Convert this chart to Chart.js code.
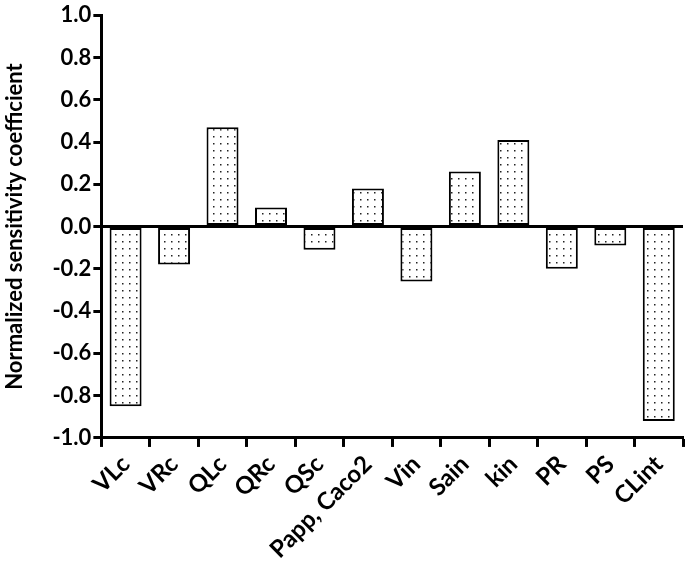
<!DOCTYPE html>
<html>
<head>
<meta charset="utf-8">
<script src="https://cdn.jsdelivr.net/npm/chart.js@4"></script>
<style>
  body { margin: 0; background: #fff; }
  #wrap { width: 685px; height: 567px; }
</style>
</head>
<body>
<div id="wrap"><canvas id="sensChart"></canvas></div>
<script>
var categories = ['VLc', 'VRc', 'QLc', 'QRc', 'QSc', 'Papp, Caco2', 'Vin', 'Sain', 'kin', 'PR', 'PS', 'CLint'];
var coefficients = [-0.85, -0.18, 0.47, 0.09, -0.11, 0.18, -0.26, 0.26, 0.41, -0.20, -0.09, -0.92];
var yTicks = [-1.0, -0.8, -0.6, -0.4, -0.2, 0.0, 0.2, 0.4, 0.6, 0.8, 1.0];

// dotted fill like the original
function dotPattern() {
  var c = document.createElement('canvas');
  c.width = 7; c.height = 7;
  var g = c.getContext('2d');
  g.fillStyle = '#fff';
  g.fillRect(0, 0, 7, 7);
  g.fillStyle = '#222';
  g.fillRect(3, 3, 1.5, 1.5);
  return g.createPattern(c, 'repeat');
}

Chart.defaults.font.family = 'Lato, "Open Sans", sans-serif';
Chart.defaults.color = '#000';

var ctx = document.getElementById('sensChart').getContext('2d');
var sensChart = new Chart(ctx, {
  type: 'bar',
  data: {
    labels: categories,
    datasets: [{
      data: coefficients,
      backgroundColor: dotPattern(),
      borderColor: '#000',
      borderWidth: 2,
      borderSkipped: false,
      barPercentage: 0.66,
      categoryPercentage: 1.0
    }]
  },
  options: {
    responsive: true,
    maintainAspectRatio: false,
    animation: false,
    layout: { padding: { top: 2, right: 2, bottom: 0, left: 2 } },
    plugins: {
      legend: { display: false },
      tooltip: { enabled: false }
    },
    scales: {
      x: {
        border: { display: true, color: '#000', width: 3 },
        grid: {
          drawOnChartArea: false,
          drawTicks: true,
          tickLength: 9,
          tickColor: '#000',
          tickWidth: 3
        },
        ticks: {
          minRotation: 45,
          maxRotation: 45,
          autoSkip: false,
          padding: 3,
          font: { size: 24, weight: 'bold' }
        }
      },
      y: {
        min: -1,
        max: 1,
        afterBuildTicks: function (axis) {
          axis.ticks = yTicks.map(function (v) { return { value: v }; });
        },
        border: { display: true, color: '#000', width: 3 },
        grid: {
          color: function (c) { return c.tick && c.tick.value === 0 ? '#000' : 'rgba(0,0,0,0)'; },
          lineWidth: 3,
          drawTicks: true,
          tickLength: 8,
          tickColor: '#000',
          tickWidth: 3
        },
        ticks: {
          padding: 2,
          font: { size: 22, weight: 'bold' },
          callback: function (v) { return Number(v).toFixed(1); }
        },
        title: {
          display: true,
          text: 'Normalized sensitivity coefficient',
          font: { size: 22, weight: 'bold' },
          padding: { top: 0, bottom: 22 }
        }
      }
    }
  }
});
</script>
</body>
</html>
